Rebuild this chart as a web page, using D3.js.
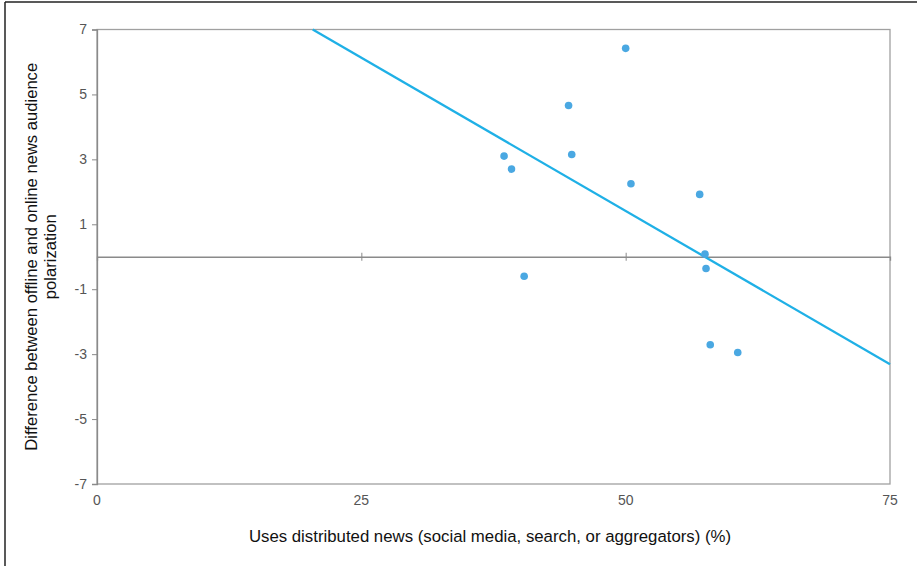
<!DOCTYPE html>
<html>
<head>
<meta charset="utf-8">
<script src="https://cdn.jsdelivr.net/npm/d3@7"></script>
<style>
  body { margin: 0; background: #fff; }
  text { font-family: "Liberation Sans", Arial, sans-serif; }
</style>
</head>
<body>
<div id="chart"></div>
<script>
// Data
const distributed = [50.0, 44.6, 38.5, 39.2, 44.9, 50.5, 57.0, 57.5, 57.6, 40.4, 58.0, 60.6];
const polarizationDiff = [6.42, 4.66, 3.1, 2.7, 3.15, 2.25, 1.92, 0.08, -0.36, -0.6, -2.71, -2.95];
const trendX = [20.4, 75];
const trendY = [7, -3.31];
const xTicks = [0, 25, 50, 75];
const yTicks = [7, 5, 3, 1, -1, -3, -5, -7];

const W = 917, H = 566;
const margin = { top: 29.5, right: 27, bottom: 82, left: 97 };
const width = W - margin.left - margin.right;
const height = H - margin.top - margin.bottom;

const svg = d3.select("#chart").append("svg")
    .attr("width", W)
    .attr("height", H);

// outer frame (top and left only)
svg.append("line").attr("x1", 5).attr("x2", W).attr("y1", 2).attr("y2", 2)
    .attr("stroke", "#222").attr("stroke-width", 1.5);
svg.append("line").attr("x1", 5).attr("x2", 5).attr("y1", 2).attr("y2", H)
    .attr("stroke", "#222").attr("stroke-width", 1.5);

const g = svg.append("g")
    .attr("transform", "translate(" + margin.left + "," + margin.top + ")");

const x = d3.scaleLinear().domain([0, 75]).range([0, width]);
const y = d3.scaleLinear().domain([-7, 7]).range([height, 0]);

// plot frame
g.append("rect")
    .attr("width", width).attr("height", height)
    .attr("fill", "none").attr("stroke", "#a0a0a0").attr("stroke-width", 1.3);

// left axis
const yAxis = g.append("g")
    .call(d3.axisLeft(y).tickValues(yTicks).tickSize(5).tickPadding(5).tickFormat(d => String(d)));
yAxis.select(".domain").attr("stroke", "#8a8a8a").attr("stroke-width", 1.3);
yAxis.selectAll(".tick line").attr("stroke", "#8a8a8a");
yAxis.selectAll("text").attr("font-size", 14).attr("fill", "#555")
    .attr("font-family", "'Liberation Sans', Arial, sans-serif");

// bottom labels (no ticks)
g.append("g").attr("transform", "translate(0," + height + ")")
    .selectAll("text").data(xTicks).join("text")
    .attr("x", d => x(d)).attr("y", 21)
    .attr("text-anchor", "middle")
    .attr("font-size", 14).attr("fill", "#555")
    .text(d => d);

// zero line with ticks
const zero = g.append("g").attr("transform", "translate(0," + y(0) + ")")
    .call(d3.axisBottom(x).tickValues([25, 50]).tickSize(4).tickFormat(""));
zero.select(".domain").attr("stroke", "#8a8a8a").attr("stroke-width", 1.3);
zero.selectAll(".tick line").attr("stroke", "#8a8a8a").attr("y1", -4).attr("y2", 4);

// trend line
g.append("path")
    .datum(d3.zip(trendX, trendY))
    .attr("d", d3.line().x(d => x(d[0])).y(d => y(d[1])))
    .attr("fill", "none")
    .attr("stroke", "#1fb0e6")
    .attr("stroke-width", 2.3);

// points
g.selectAll("circle").data(d3.zip(distributed, polarizationDiff)).join("circle")
    .attr("cx", d => x(d[0]))
    .attr("cy", d => y(d[1]))
    .attr("r", 3.8)
    .attr("fill", "#4aa8e2");

// axis titles
svg.append("text")
    .attr("x", 490).attr("y", 542)
    .attr("text-anchor", "middle")
    .attr("font-size", 16.8).attr("fill", "#111")
    .text("Uses distributed news (social media, search, or aggregators) (%)");

const yt = svg.append("text")
    .attr("transform", "translate(37," + (margin.top + height / 2) + ") rotate(-90)")
    .attr("text-anchor", "middle")
    .attr("font-size", 16.6).attr("fill", "#111");
yt.append("tspan").attr("x", 0).attr("dy", 0).text("Difference between offline and online news audience");
yt.append("tspan").attr("x", 0).attr("dy", 19).text("polarization");
</script>
</body>
</html>
